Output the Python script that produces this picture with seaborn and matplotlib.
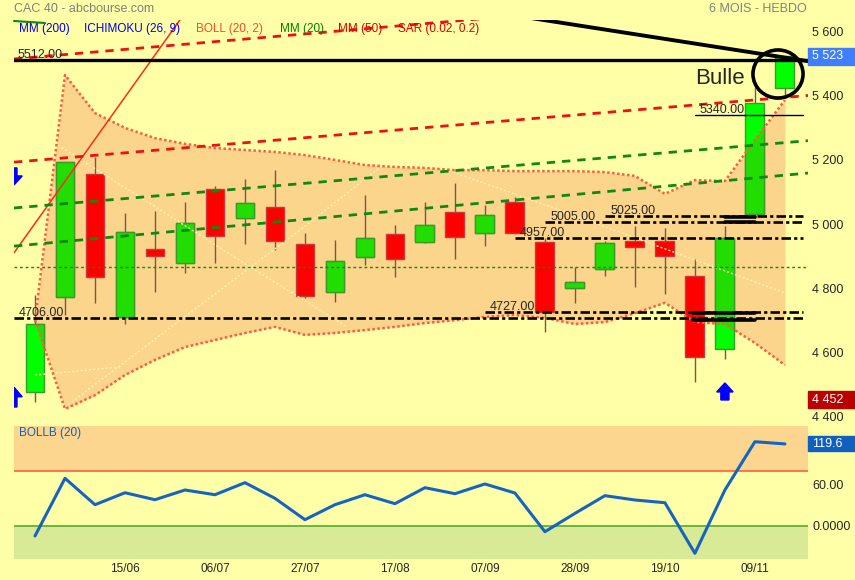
import numpy as np
import seaborn as sns
import matplotlib.pyplot as plt
from matplotlib.patches import Ellipse, Rectangle
from matplotlib.lines import Line2D
from matplotlib.transforms import blended_transform_factory

# CAC 40 weekly candles, 6 months
opens = [4476, 4772, 5156, 4709, 4922, 4879, 5109, 5020, 5052, 4938, 4789, 4898, 4968,
         4943, 5037, 4973, 5068, 4945, 4800, 4859, 4947, 4948, 4838, 4610, 5030, 5425]
highs = [4778, 5195, 5209, 5033, 5041, 5069, 5119, 5140, 5168, 4971, 4950, 5090, 4997,
         5069, 5127, 5059, 5085, 4957, 4865, 4948, 4994, 4988, 4890, 4994, 5427, 5523]
lows = [4445, 4716, 4754, 4688, 4789, 4848, 4879, 4938, 4919, 4770, 4757, 4872, 4836,
        4940, 4890, 4932, 4970, 4662, 4753, 4839, 4804, 4781, 4508, 4578, 5019, 5400]
closes = [4688, 5193, 4834, 4974, 4901, 5002, 4963, 5065, 4948, 4776, 4885, 4955, 4890,
          4996, 4959, 5027, 4971, 4727, 4818, 4940, 4929, 4901, 4586, 4955, 5378, 5523]

# bollinger (20, 2) bands
boll_up = [4700, 5465, 5346, 5300, 5268, 5250, 5237, 5231, 5225, 5215, 5200, 5184, 5178,
           5175, 5168, 5168, 5165, 5165, 5165, 5162, 5150, 5094, 5137, 5134, 5262, 5387]
boll_low = [4700, 4423, 4466, 4529, 4576, 4616, 4638, 4660, 4679, 4654, 4660, 4669, 4679,
            4691, 4700, 4710, 4716, 4707, 4688, 4694, 4722, 4754, 4694, 4688, 4629, 4560]

# bollinger %B (20)
pctb = [-15, 69.3, 30.7, 48.2, 38, 52.2, 45.3, 62.9, 40, 8.8, 30.7, 45.3, 32.2,
        55.6, 46.8, 61, 47.8, -8.8, 18, 43.9, 37.6, 33.6, -40.4, 52.2, 122.8, 119.6]

tick_idx = [3, 6, 9, 12, 15, 18, 21, 24]
tick_dates = ['15/06', '06/07', '27/07', '17/08', '07/09', '28/09', '19/10', '09/11']
price_ticks = [4400, 4600, 4800, 5000, 5200, 5400, 5600]
last_price = 5523
low_price = 4452

# hand drawn lines (week index, value)
red_trend = ([-0.7, 6.0], [4910, 5790])
red_chan_low = ([-0.7, 25.77], [5193, 5401])
red_chan_high = ([-0.7, 25.77], [5515, 5728])
green_chan_high = ([-0.7, 25.77], [5050, 5260])
green_chan_low = ([-0.7, 25.77], [4931, 5159])
black_diag = ([15.0, 25.77], [5665, 5508])
resist = 5512
mm_flat = 4867
levels = [4706, 4727, 4957, 5005, 5025]
level_start = [-0.7, 15, 16, 17, 19]
level_5340 = 5340
ichimoku_faint = [([0.77, 7.17, 10.4], [5246, 4866, 4679]),
                  ([1.0, 8.83, 11.6], [4429, 4981, 5184]),
                  ([0.0, 2.83], [4529, 4554]),
                  ([13.93, 16.83, 25.0], [5162, 5066, 4785])]

bg = '#FFFFA8'
band_col = '#FCD58D'
sns.set_style('white', {'axes.facecolor': bg, 'figure.facecolor': bg})
plt.rcParams['font.family'] = ['Liberation Sans', 'DejaVu Sans']

W, H = 855, 580
fig = plt.figure(figsize=(W / 100, H / 100), dpi=100)
ax = fig.add_axes([14 / W, 1 - 420 / H, 794 / W, 400 / H])
ax2 = fig.add_axes([14 / W, 1 - 559 / H, 794 / W, 133 / H])

weeks = np.arange(len(closes))
o = np.array(opens); c = np.array(closes)
up = c >= o
bot = np.minimum(o, c)
hgt = np.abs(c - o)

# band fill
band = ax.fill_between(weeks, boll_low, boll_up, color=band_col, lw=0, zorder=1)
band_path = band.get_paths()[0]

# candles
ax.vlines(weeks, lows, highs, color='#7A5848', lw=1, zorder=3)
ax.bar(weeks[up], hgt[up], bottom=bot[up], width=0.63, color='#00FF00',
       edgecolor='#3A9A2A', lw=1, zorder=4)
dark = ax.bar(weeks[up], hgt[up], bottom=bot[up], width=0.63, color='#22DD00',
              edgecolor='#3A9A2A', lw=1, zorder=4.1)
for p in dark.patches:
    p.set_clip_path(band_path, ax.transData)
ax.bar(weeks[~up], hgt[~up], bottom=bot[~up], width=0.63, color='#FF0000',
       edgecolor='#C83A3A', lw=1, zorder=4)

# faint ichimoku lines
for xs, ys in ichimoku_faint:
    ax.plot(xs, ys, color='#FFF3B0', lw=1, ls=(0, (1.5, 1.5)), zorder=5)

# bollinger band borders
sns.lineplot(x=weeks, y=boll_up, ax=ax, color='#FF5A45', lw=1.8, linestyle=(0, (1, 1)), zorder=6)
sns.lineplot(x=weeks, y=boll_low, ax=ax, color='#FF5A45', lw=1.8, linestyle=(0, (1, 1)), zorder=6)

# channels and trend lines
ax.plot(*red_trend, color='#FF2A1A', lw=1.1, zorder=6)
ax.plot(*red_chan_low, color='#EE1111', lw=2, ls=(0, (3, 2.5)), zorder=6)
ax.plot(*red_chan_high, color='#EE1111', lw=2, ls=(0, (3, 2.5)), zorder=6)
ax.plot(*green_chan_high, color='#118811', lw=2, ls=(0, (3, 2.5)), zorder=6)
ax.plot(*green_chan_low, color='#118811', lw=2, ls=(0, (3, 2.5)), zorder=6)
ax.axhline(mm_flat, color='#118811', lw=1, ls=(0, (2, 2)), zorder=5)
ax.axhline(resist, color='black', lw=2.4, zorder=7)
ax.plot(*black_diag, color='black', lw=2.8, zorder=7, solid_capstyle='round')

for lv, st in zip(levels, level_start):
    ax.plot([st, 25.6], [lv, lv], color='black', lw=1.9, ls=(0, (3.6, 1.2, 1.2, 1.2)), zorder=7)
    ax.text(st + 0.17, lv + 6, f'{lv:.2f}', fontsize=9, va='baseline', zorder=8)
ax.plot([22, 25.6], [level_5340, level_5340], color='black', lw=1, zorder=7)
ax.text(22.17, level_5340 + 6, f'{level_5340:.2f}', fontsize=9, va='baseline', zorder=8)
ax.text(-0.57, resist + 6, f'{resist:.2f}', fontsize=9, va='baseline', zorder=8)

# short thick bars
for lv in [5022, 5006]:
    ax.plot([23, 24], [lv, lv], color='black', lw=2.6, zorder=7)
for lv in [4722, 4700]:
    ax.plot([21.93, 24], [lv, lv], color='black', lw=2.6, zorder=7)

# SAR arrows
ax.arrow(23, 4451, 0, 53, width=0.27, head_width=0.55, head_length=28,
         length_includes_head=True, color='#0000FF', zorder=8)
ax.arrow(-0.7, 5175, 0, -53, width=0.2, head_width=0.55, head_length=28,
         length_includes_head=True, color='#0000FF', zorder=8)
ax.arrow(-0.7, 4429, 0, 62, width=0.2, head_width=0.55, head_length=30,
         length_includes_head=True, color='#0000FF', zorder=8)

# "Bulle" annotation
ax.add_patch(Ellipse((24.77, 5468), 1.67, 150, fill=False, ec='black', lw=2.6, zorder=9))
ax.text(22.0, 5455, 'Bulle', fontsize=16, va='center', ha='left', zorder=9)

ax.set_xlim(-0.7, 25.77)
ax.set_ylim(4388.5, 5636.5)
ax.yaxis.tick_right()
ax.set_yticks(price_ticks)
ax.set_yticklabels([f'{v:,}'.replace(',', ' ') for v in price_ticks], fontsize=9)
ax.tick_params(axis='y', length=0, pad=3)
ax.set_xticks([])
for s in ax.spines.values():
    s.set_visible(False)

# price boxes on the right
tr = blended_transform_factory(ax.transAxes, ax.transData)
for val, col in [(last_price, '#3F7FFF'), (low_price, '#BB0000')]:
    ax.add_patch(Rectangle((1.0, val - 26), 47 / 794, 52, transform=tr, color=col,
                           clip_on=False, zorder=10))
    ax.text(1.0 + 4 / 794, val, f'{val:,}'.replace(',', ' '), transform=tr, color='white',
            fontsize=9, va='center', clip_on=False, zorder=11)

# bottom pane: BOLLB (20)
ax2.set_xlim(-0.7, 25.77)
ax2.set_ylim(-48.7, 145.8)
ax2.axhspan(80, 145.8, color='#FCD68E', lw=0, zorder=0)
ax2.axhspan(-48.7, 0, color='#D8EA96', lw=0, zorder=0)
ax2.axhline(80, color='#FF6040', lw=1.2, zorder=1)
ax2.axhline(0, color='#55AA33', lw=1.2, zorder=1)
sns.lineplot(x=weeks, y=pctb, ax=ax2, color='#1565C0', lw=2.2, zorder=3)
ax2.yaxis.tick_right()
ax2.set_yticks([0, 60])
ax2.set_yticklabels(['0.0000', '60.00'], fontsize=9)
ax2.set_xticks(tick_idx)
ax2.set_xticklabels(tick_dates, fontsize=8.5)
ax2.tick_params(length=0, pad=3)
ax2.set_ylabel('')
for s in ax2.spines.values():
    s.set_visible(False)
tr2 = blended_transform_factory(ax2.transAxes, ax2.transData)
ax2.add_patch(Rectangle((1.0, pctb[-1] - 11), 47 / 794, 22, transform=tr2, color='#1060C0',
                        clip_on=False, zorder=10))
ax2.text(1.0 + 4 / 794, pctb[-1], f'{pctb[-1]:.1f}', transform=tr2, color='white',
         fontsize=9, va='center', clip_on=False, zorder=11)
fig.text(19 / W, 1 - 433 / H, 'BOLLB (20)', color='#1060C0', fontsize=8.5, va='center')

# header texts
fig.text(14 / W, 1 - 9 / H, 'CAC 40 - abcbourse.com', color='#808080', fontsize=9, va='center')
fig.text(807 / W, 1 - 9 / H, '6 MOIS - HEBDO', color='#808080', fontsize=9, va='center', ha='right')
legend_items = [('MM (200)', 19, '#0000EE'), ('ICHIMOKU (26, 9)', 84, '#0000EE'),
                ('BOLL (20, 2)', 196, '#FF4433'), ('MM (20)', 280, '#008000'),
                ('MM (50)', 338, '#DD0000'), ('SAR (0.02, 0.2)', 398, '#DD0000')]
for txt, px, col in legend_items:
    fig.text(px / W, 1 - 29 / H, txt, color=col, fontsize=8.5, va='center', zorder=1)
fig.add_artist(Line2D([14 / W, 45 / W], [1 - 21 / H, 1 - 23 / H], color='#118811', lw=1.5))

fig.savefig('out.png', dpi=100, facecolor=bg)
